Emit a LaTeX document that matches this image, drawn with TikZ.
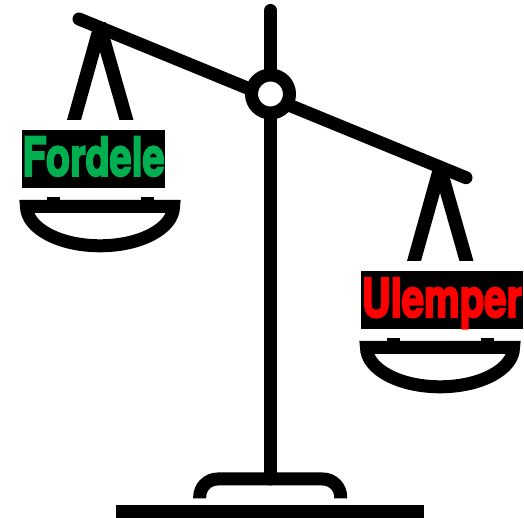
\documentclass[tikz,border=0pt]{standalone}
\usepackage{fontspec}
\newfontfamily\labelfont[FakeBold=4]{TeX Gyre Heros Bold}
\definecolor{fordelegreen}{HTML}{00B050}
\definecolor{ulemperred}{HTML}{FF0000}
\tikzset{
    scalebar/.style={line width=13pt},
    labelbox/.style={fill=black,inner sep=0pt,align=center,text height=46pt,text depth=12pt,font=\labelfont\fontsize{51}{51}\selectfont}
}
\begin{document}
\begin{tikzpicture}[x=1pt,y=1pt]
    \useasboundingbox (0,0) rectangle (524,518);
    % Bjaelke og stolpe
    \draw[scalebar,line cap=round] (79,499) -- (466,340.3);
    \draw[scalebar,line cap=round] (270.5,507.5) -- (270.5,39);
    \draw[scalebar,fill=white] (270.5,424) circle (19);
    % Fod
    \draw[scalebar] (199.7,19.7) -- (199.7,21) arc[start angle=180,end angle=90,radius=18] -- (322.7,39) arc[start angle=90,end angle=0,radius=18] -- (340.7,19.7);
    \fill (116,0) rectangle (424,13);
    % Skaale
    \foreach \x/\y in {0/0,340/-141} {
        \begin{scope}[shift={(\x,\y)}]
            \begin{scope}
                \clip (60,398) rectangle (140,495);
                \draw[line width=13.5pt] (71.2,388) -- (100,491) -- (129.3,388);
            \end{scope}
            \fill (47,318) rectangle (60,320.5);
            \fill (141,318) rectangle (154,320.5);
            \draw[scalebar,line join=miter] (26.5,311.5) -- (173.5,311.5) arc[start angle=0,end angle=-180,x radius=73.5,y radius=39.3] -- cycle;
        \end{scope}
    }
    % Tekster
    \node[labelbox,text=fordelegreen,text width=143pt] (fordele) at (93.5,359.2) {\scalebox{.775}[1.05]{Fordele}};
    \node[labelbox,text=ulemperred,text width=162pt] (ulemper) at (442,218) {\scalebox{.785}[1.05]{Ulemper}};
\end{tikzpicture}
\end{document}
